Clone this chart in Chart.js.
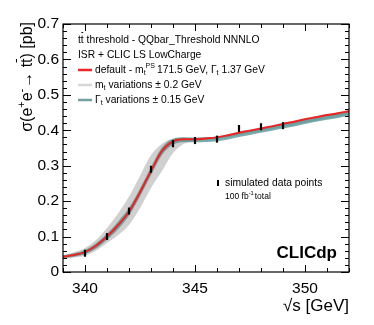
<!DOCTYPE html>
<html><head><meta charset="utf-8">
<script src="https://cdn.jsdelivr.net/npm/chart.js@4.4.1/dist/chart.umd.min.js"></script>
<style>html,body{margin:0;padding:0;background:#fff}canvas{display:block}</style>
</head><body>
<canvas id="c" width="374" height="325"></canvas>
<script>
// energies (GeV) for curves
const sqrtS = [339,339.5,340,340.5,341,341.5,342,342.5,343,343.5,344,344.5,345,345.5,346,346.5,347,347.5,348,348.5,349,349.5,350,350.5,351,351.5,352];
// default prediction (red)
const sigmaDefault = [0.043,0.048,0.056,0.074,0.100,0.132,0.170,0.225,0.285,0.342,0.369,0.375,0.375,0.377,0.380,0.386,0.393,0.399,0.405,0.411,0.418,0.424,0.431,0.437,0.443,0.448,0.454];
// mt variations band (grey)
const mtUpper = [0.048,0.056,0.068,0.090,0.124,0.165,0.213,0.272,0.330,0.362,0.376,0.379,0.379,0.380,0.383,0.389,0.396,0.402,0.408,0.414,0.421,0.427,0.434,0.440,0.446,0.451,0.457];
const mtLower = [0.037,0.041,0.046,0.060,0.082,0.104,0.133,0.180,0.237,0.285,0.336,0.362,0.370,0.372,0.375,0.380,0.386,0.392,0.397,0.403,0.409,0.415,0.421,0.427,0.433,0.438,0.444];
// width variations band (teal)
const gtUpper = [0.047,0.053,0.062,0.081,0.108,0.142,0.181,0.236,0.296,0.352,0.376,0.380,0.379,0.380,0.382,0.387,0.393,0.399,0.405,0.411,0.418,0.424,0.431,0.437,0.443,0.448,0.454];
const gtLower = [0.039,0.043,0.050,0.066,0.091,0.121,0.159,0.213,0.273,0.330,0.359,0.366,0.366,0.367,0.369,0.374,0.381,0.387,0.393,0.399,0.405,0.411,0.418,0.424,0.430,0.435,0.441];
// simulated data points
const dataE = [340,341,342,343,344,345,346,347,348,349];
const dataSigma = [0.053,0.100,0.172,0.290,0.362,0.371,0.375,0.405,0.410,0.413];
// tick labels
const xTicks = [340,345,350];
const yTicks = [0,0.1,0.2,0.3,0.4,0.5,0.6,0.7];

const pts = a => sqrtS.map((x,i)=>({x:x,y:a[i]}));
const FONT = '"Liberation Sans", Arial, sans-serif';

function drawRich(ctx, parts, x, y, base) {
  let cx = x;
  for (const p of parts) {
    const size = p.small ? base*0.68 : base;
    const dy = p.sup ? -base*0.38 : (p.sub ? base*0.25 : 0);
    ctx.font = (p.bold?'bold ':'') + size + 'px ' + FONT;
    ctx.fillText(p.t, cx, y + dy);
    const w = ctx.measureText(p.t).width;
    if (p.bar) {
      ctx.save(); ctx.lineWidth = 1; ctx.strokeStyle = ctx.fillStyle;
      ctx.beginPath(); ctx.moveTo(cx+0.5, y - base*0.72); ctx.lineTo(cx+w-0.5, y - base*0.72); ctx.stroke(); ctx.restore();
    }
    cx += w + (p.gap||0);
  }
  return cx - x;
}
function richWidth(ctx, parts, base) {
  let w=0; for (const p of parts){const size=p.small?base*0.68:base; ctx.font=(p.bold?'bold ':'')+size+'px '+FONT; w+=ctx.measureText(p.t).width+(p.gap||0);} return w;
}

const deco = {
  id: 'deco',
  afterDraw(chart) {
    const ctx = chart.ctx, a = chart.chartArea, xs = chart.scales.x, ys = chart.scales.y;
    ctx.save();
    ctx.strokeStyle = '#000'; ctx.lineWidth = 1.2;
    ctx.strokeRect(a.left, a.top, a.right-a.left, a.bottom-a.top);
    // ticks
    ctx.lineWidth = 1;
    ctx.beginPath();
    for (let v = 339; v <= 352.001; v += 1) {
      const px = Math.round(xs.getPixelForValue(v)) + 0.5;
      const L = (Math.abs(v % 5) < 1e-6) ? 7 : 4;
      ctx.moveTo(px, a.bottom); ctx.lineTo(px, a.bottom - L);
      ctx.moveTo(px, a.top); ctx.lineTo(px, a.top + L);
    }
    for (let k = 0; k <= 35; k++) {
      const v = k*0.02;
      const py = Math.round(ys.getPixelForValue(v)) + 0.5;
      const L = (k % 5 === 0) ? 8 : 4;
      ctx.moveTo(a.left, py); ctx.lineTo(a.left + L, py);
      ctx.moveTo(a.right, py); ctx.lineTo(a.right - L, py);
    }
    ctx.stroke();
    ctx.fillStyle = '#000';
    ctx.textBaseline = 'middle';
    // x title
    ctx.textAlign = 'left';
    const xt = [{t:'\u221As [GeV]'}];
    const xw = richWidth(ctx, xt, 17);
    drawRich(ctx, xt, a.right - xw, 306, 17);
    // y title
    const yt = [{t:'\u03C3(e'},{t:'+',sup:1,small:1},{t:'e'},{t:'-',sup:1,small:1,gap:1},{t:'\u2192 t'},{t:'t',bar:1},{t:') [pb]'}];
    const yw = richWidth(ctx, yt, 16);
    ctx.save(); ctx.translate(28, a.top - 2); ctx.rotate(-Math.PI/2);
    drawRich(ctx, yt, -yw, 0, 16);
    ctx.restore();
    // legend
    const L0 = 78, fs = 10.3;
    drawRich(ctx, [{t:'t'},{t:'t',bar:1},{t:' threshold - QQbar_Threshold NNNLO'}], L0, 40, fs);
    drawRich(ctx, [{t:'ISR + CLIC LS LowCharge'}], L0, 55, fs);
    const samples = [
      {y:70, c:'rgb(235,40,40)', parts:[{t:'default - m'},{t:'t',sub:1,small:1},{t:'PS',sup:1,small:1,gap:2},{t:'171.5 GeV, \u0393'},{t:'t',sub:1,small:1},{t:' 1.37 GeV'}]},
      {y:85, c:'rgb(215,215,215)', parts:[{t:'m'},{t:'t',sub:1,small:1},{t:' variations \u00B1 0.2 GeV'}]},
      {y:100, c:'rgb(115,160,160)', parts:[{t:'\u0393'},{t:'t',sub:1,small:1},{t:' variations \u00B1 0.15 GeV'}]}
    ];
    for (const s of samples) {
      ctx.strokeStyle = s.c; ctx.lineWidth = 2.5;
      ctx.beginPath(); ctx.moveTo(L0, s.y); ctx.lineTo(L0+14, s.y); ctx.stroke();
      drawRich(ctx, s.parts, L0+17, s.y, fs);
    }
    // data points legend
    ctx.strokeStyle = '#000'; ctx.lineWidth = 2;
    ctx.beginPath(); ctx.moveTo(218, 180); ctx.lineTo(218, 186); ctx.stroke();
    drawRich(ctx, [{t:'simulated data points'}], 225, 183, 10.3);
    drawRich(ctx, [{t:'100 fb'},{t:'-1',sup:1,small:1,gap:1},{t:'total'}], 225, 197, 8.5);
    // CLICdp
    ctx.textAlign = 'right';
    ctx.font = 'bold 17px ' + FONT;
    ctx.fillText('CLICdp', 337, 253);
    ctx.restore();
  }
};

new Chart(document.getElementById('c'), {
  type: 'line',
  data: {
    datasets: [
      {data: dataE.map((x,i)=>({x:x,y:dataSigma[i]})), showLine:false, pointStyle:'line', rotation:90, pointRadius:3.5, borderColor:'#000', backgroundColor:'#000', borderWidth:2.2, pointBorderWidth:2.2},
      {data: pts(sigmaDefault), borderColor:'rgb(235,35,35)', borderWidth:2, pointRadius:0, cubicInterpolationMode:'monotone', fill:false},
      {data: pts(gtUpper), borderColor:'rgba(0,0,0,0)', borderWidth:0, pointRadius:0, cubicInterpolationMode:'monotone', fill:'+1', backgroundColor:'rgba(75,140,140,0.72)'},
      {data: pts(gtLower), borderColor:'rgba(0,0,0,0)', borderWidth:0, pointRadius:0, cubicInterpolationMode:'monotone', fill:false},
      {data: pts(mtUpper), borderColor:'rgba(0,0,0,0)', borderWidth:0, pointRadius:0, cubicInterpolationMode:'monotone', fill:'+1', backgroundColor:'rgb(208,208,208)'},
      {data: pts(mtLower), borderColor:'rgba(0,0,0,0)', borderWidth:0, pointRadius:0, cubicInterpolationMode:'monotone', fill:false}
    ]
  },
  options: {
    responsive:false, animation:false,
    layout:{padding:{top:24,right:25,left:0,bottom:0}},
    plugins:{legend:{display:false}, tooltip:{enabled:false}},
    scales:{
      x:{type:'linear', min:339, max:352,
         afterBuildTicks:s=>{s.ticks = xTicks.map(v=>({value:v}));},
         afterFit:s=>{s.height=53;},
         grid:{display:false, drawTicks:false}, border:{display:false},
         ticks:{padding:7, color:'#000', font:{family:FONT, size:15.5}, maxRotation:0, autoSkip:false}},
      y:{type:'linear', min:0, max:0.7,
         afterBuildTicks:s=>{s.ticks = yTicks.map(v=>({value:v}));},
         afterFit:s=>{s.width=63;},
         grid:{display:false, drawTicks:false}, border:{display:false},
         ticks:{padding:4, color:'#000', font:{family:FONT, size:15.5}, callback:v=>String(Math.round(v*10)/10)}}
    }
  },
  plugins:[deco]
});
</script>
</body></html>
